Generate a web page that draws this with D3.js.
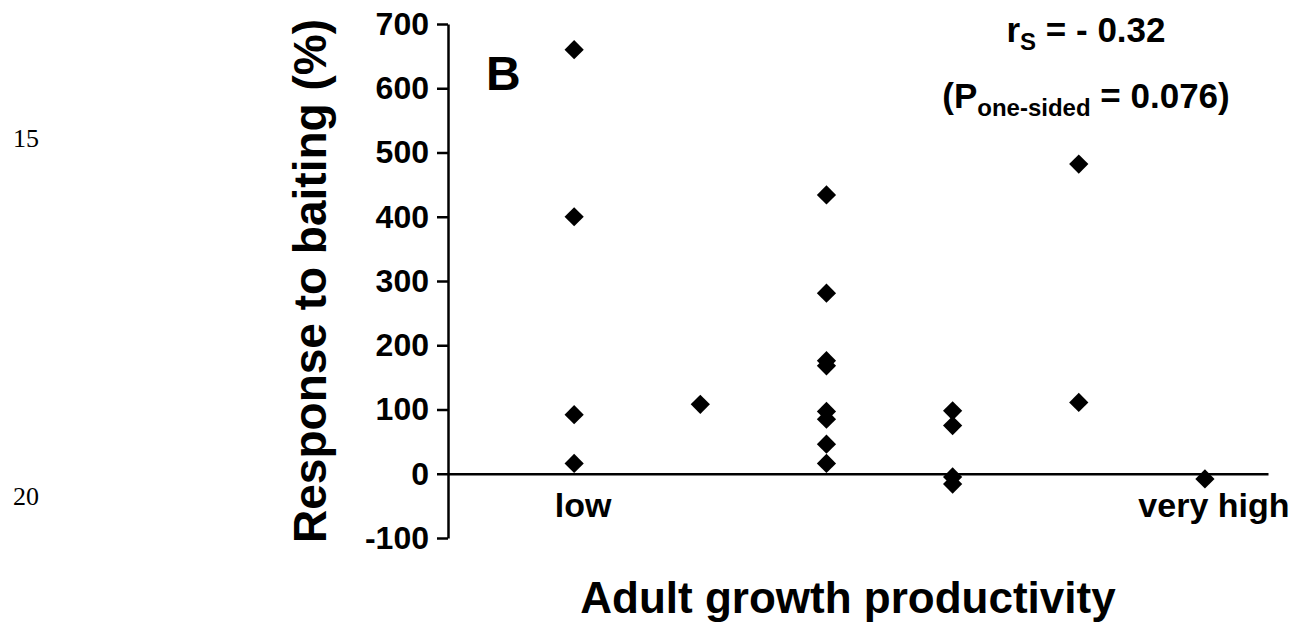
<!DOCTYPE html>
<html>
<head>
<meta charset="utf-8">
<script src="https://cdn.jsdelivr.net/npm/d3@7"></script>
<style>
  body { margin: 0; background: #fff; }
</style>
</head>
<body>
<div id="chart"></div>
<script>
// data
const productivity = [1, 1, 1, 1, 2, 3, 3, 3, 3, 3, 3, 3, 3, 4, 4, 4, 4, 5, 5, 6];
const response = [660, 400, 92, 16, 108, 434, 281, 176, 168, 97, 85, 46, 16, 98, 75, -5, -16, 482, 111, -8];
const yTicks = [-100, 0, 100, 200, 300, 400, 500, 600, 700];
const categoryLabels = [{ x: 1, label: "low" }, { x: 6, label: "very high" }];
const lineNumbers = ["15", "20"];

const W = 1301, H = 625;
const sans = "'Liberation Sans', Arial, sans-serif";

const svg = d3.select("#chart")
  .append("svg")
  .attr("width", W)
  .attr("height", H)
  .style("font-family", sans)
  .style("font-weight", "bold");

// scales
const xScale = d3.scaleLinear().domain([0, 6.5]).range([448, 1268]);
const yScale = d3.scaleLinear().domain([-100, 700]).range([538, 24]);

// y axis
const yAxis = svg.append("g")
  .attr("transform", `translate(${xScale(0)},0)`)
  .call(d3.axisLeft(yScale)
    .tickValues(yTicks)
    .tickFormat(d => String(d))
    .tickSize(11).tickSizeOuter(0).tickPadding(8));
yAxis.select(".domain").attr("stroke", "#000").attr("stroke-width", 2.5);
yAxis.selectAll(".tick line").attr("stroke", "#000").attr("stroke-width", 2.5);
yAxis.selectAll(".tick text")
  .style("font-size", "32px")
  .style("font-family", sans)
  .style("font-weight", "bold")
  .attr("fill", "#000");

// x axis at zero, no ticks
const xAxis = svg.append("g")
  .attr("transform", `translate(0,${yScale(0)})`)
  .call(d3.axisBottom(xScale).tickValues([]).tickSizeOuter(0));
xAxis.select(".domain").attr("stroke", "#000").attr("stroke-width", 2.5);

// category labels
svg.selectAll(".cat")
  .data(categoryLabels)
  .enter().append("text")
  .attr("class", "cat")
  .attr("x", d => xScale(d.x) + 9)
  .attr("y", 517)
  .attr("text-anchor", "middle")
  .style("font-size", "34px")
  .text(d => d.label);

// diamonds
const diamond = d3.symbol().type(d3.symbolSquare).size(185);
svg.selectAll(".pt")
  .data(response)
  .enter().append("path")
  .attr("class", "pt")
  .attr("d", diamond)
  .attr("transform", (d, i) => `translate(${xScale(productivity[i])},${yScale(d)}) rotate(45)`)
  .attr("fill", "#000");

// axis titles
svg.append("text")
  .attr("transform", `translate(326,${(yScale(700) + yScale(-100)) / 2}) rotate(-90)`)
  .attr("text-anchor", "middle")
  .style("font-size", "46px")
  .text("Response to baiting (%)");

svg.append("text")
  .attr("x", 848)
  .attr("y", 613)
  .attr("text-anchor", "middle")
  .style("font-size", "44px")
  .text("Adult growth productivity");

// panel letter
svg.append("text")
  .attr("x", 486)
  .attr("y", 90)
  .style("font-size", "48px")
  .text("B");

// statistics
const s1 = svg.append("text")
  .attr("x", 1086).attr("y", 42)
  .attr("text-anchor", "middle")
  .style("font-size", "35px");
s1.append("tspan").text("r");
s1.append("tspan").style("font-size", "24px").attr("dy", 8).text("S");
s1.append("tspan").attr("dy", -8).text(" = - 0.32");

const s2 = svg.append("text")
  .attr("x", 1086).attr("y", 108)
  .attr("text-anchor", "middle")
  .style("font-size", "35px");
s2.append("tspan").text("(P");
s2.append("tspan").style("font-size", "24px").attr("dy", 8).text("one-sided");
s2.append("tspan").attr("dy", -8).text(" = 0.076)");

// stray line numbers from the source page
svg.selectAll(".ln")
  .data(lineNumbers)
  .enter().append("text")
  .attr("class", "ln")
  .attr("x", 13)
  .attr("y", (d, i) => i === 0 ? 147 : 505)
  .style("font-family", "'Liberation Serif', 'Times New Roman', serif")
  .style("font-weight", "normal")
  .style("font-size", "26px")
  .text(d => d);
</script>
</body>
</html>
